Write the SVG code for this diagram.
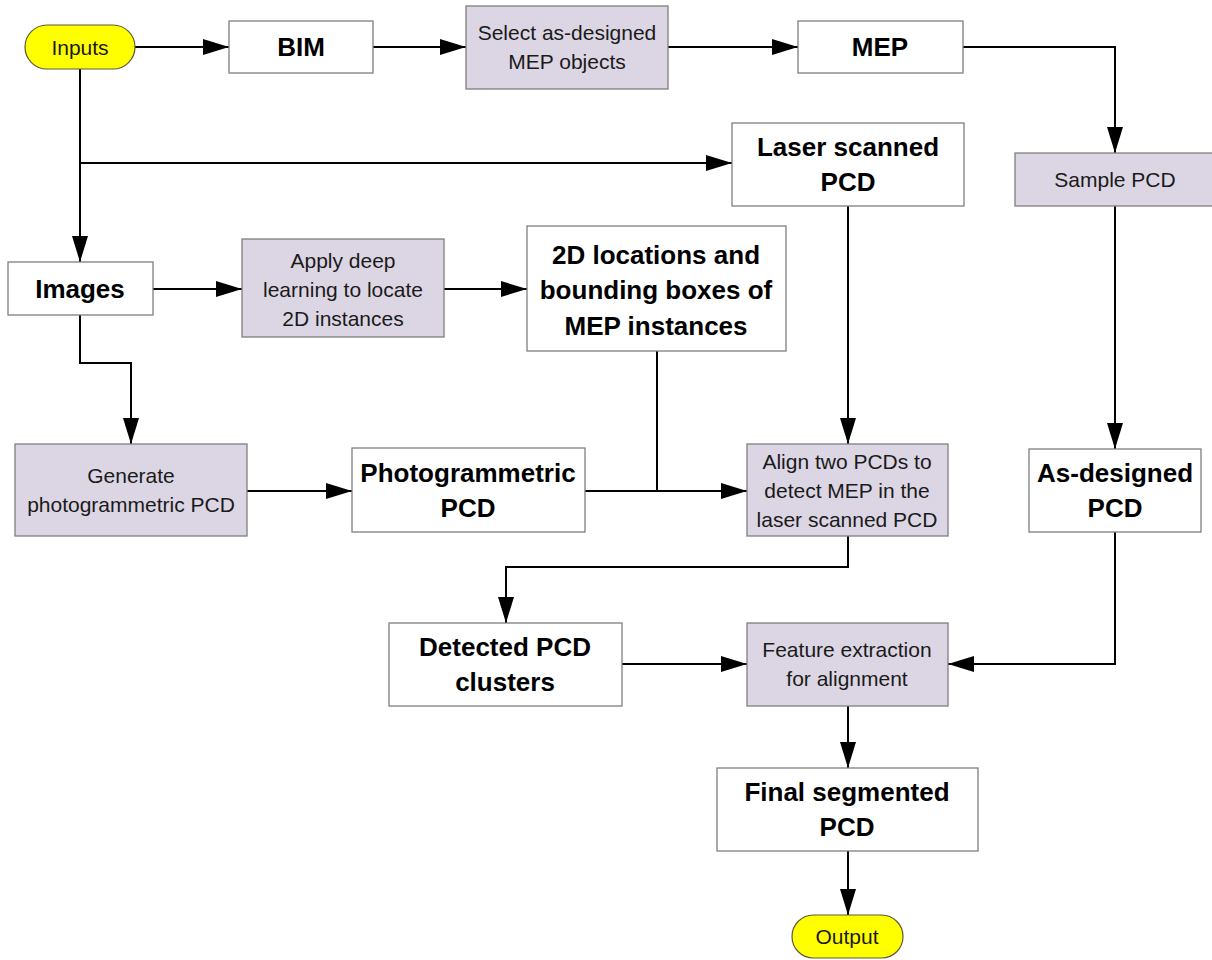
<svg xmlns="http://www.w3.org/2000/svg" width="1212" height="960" viewBox="0 0 1212 960">
<defs>
<marker id="arr" markerUnits="userSpaceOnUse" markerWidth="26" markerHeight="16" refX="26" refY="8" orient="auto">
<path d="M0,0 L26,8 L0,16 Z" fill="#000"/>
</marker>
<style>
.box{fill:#ffffff;stroke:#7f7f7f;stroke-width:1.3}
.proc{fill:#dcd6e4;stroke:#7f7f7f;stroke-width:1.3}
.term{fill:#ffff00;stroke:#5a5a3a;stroke-width:1.2}
.b{font-family:"Liberation Sans",Arial,sans-serif;font-weight:bold;font-size:26px;fill:#000;text-anchor:middle}
.r{font-family:"Liberation Sans",Arial,sans-serif;font-size:21px;fill:#1a1a1a;text-anchor:middle}
.c{fill:none;stroke:#000;stroke-width:2}
</style>
</defs>
<rect width="1212" height="960" fill="#ffffff"/>
<g id="connectors">
<path class="c" d="M135,47 H229" marker-end="url(#arr)"/>
<path class="c" d="M373,47 H466" marker-end="url(#arr)"/>
<path class="c" d="M668,47 H798" marker-end="url(#arr)"/>
<path class="c" d="M963,47 H1115 V153" marker-end="url(#arr)"/>
<path class="c" d="M1115,206 V449" marker-end="url(#arr)"/>
<path class="c" d="M1115,532 V664 H948" marker-end="url(#arr)"/>
<path class="c" d="M80,69 V262" marker-end="url(#arr)"/>
<path class="c" d="M80,163 H732" marker-end="url(#arr)"/>
<path class="c" d="M153,289 H242" marker-end="url(#arr)"/>
<path class="c" d="M444,289 H527" marker-end="url(#arr)"/>
<path class="c" d="M80,315 V363 H131 V444" marker-end="url(#arr)"/>
<path class="c" d="M247,491 H352" marker-end="url(#arr)"/>
<path class="c" d="M585,491 H747" marker-end="url(#arr)"/>
<path class="c" d="M657,351 V491"/>
<path class="c" d="M848,206 V444" marker-end="url(#arr)"/>
<path class="c" d="M848,536 V567 H506 V623" marker-end="url(#arr)"/>
<path class="c" d="M622,664 H747" marker-end="url(#arr)"/>
<path class="c" d="M848,706 V768" marker-end="url(#arr)"/>
<path class="c" d="M848,851 V915" marker-end="url(#arr)"/>
</g>
<g id="inputs"><rect class="term" x="25" y="25" width="110" height="44" rx="22"/><text class="r" x="80" y="55">Inputs</text></g>
<g id="bim"><rect class="box" x="229" y="21" width="144" height="52"/><text class="b" x="301" y="56">BIM</text></g>
<g id="select"><rect class="proc" x="466" y="6" width="202" height="83"/><text class="r" x="567" y="40">Select as-designed</text><text class="r" x="567" y="69">MEP objects</text></g>
<g id="mep"><rect class="box" x="798" y="21" width="165" height="52"/><text class="b" x="880" y="56">MEP</text></g>
<g id="laser"><rect class="box" x="732" y="123" width="232" height="83"/><text class="b" x="848" y="156">Laser scanned</text><text class="b" x="848" y="191">PCD</text></g>
<g id="sample"><rect class="proc" x="1015" y="153" width="200" height="53"/><text class="r" x="1115" y="187">Sample PCD</text></g>
<g id="images"><rect class="box" x="8" y="262" width="145" height="53"/><text class="b" x="80" y="298">Images</text></g>
<g id="apply"><rect class="proc" x="242" y="239" width="202" height="98"/><text class="r" x="343" y="268">Apply deep</text><text class="r" x="343" y="297">learning to locate</text><text class="r" x="343" y="326">2D instances</text></g>
<g id="locations"><rect class="box" x="527" y="226" width="259" height="125"/><text class="b" x="656" y="264">2D locations and</text><text class="b" x="656" y="299">bounding boxes of</text><text class="b" x="656" y="335">MEP instances</text></g>
<g id="generate"><rect class="proc" x="15" y="444" width="232" height="92"/><text class="r" x="131" y="483">Generate</text><text class="r" x="131" y="512">photogrammetric PCD</text></g>
<g id="photogrammetric"><rect class="box" x="352" y="448" width="233" height="84"/><text class="b" x="468" y="482">Photogrammetric</text><text class="b" x="468" y="517">PCD</text></g>
<g id="align"><rect class="proc" x="747" y="444" width="201" height="92"/><text class="r" x="847" y="469">Align two PCDs to</text><text class="r" x="847" y="498">detect MEP in the</text><text class="r" x="847" y="527">laser scanned PCD</text></g>
<g id="asdesigned"><rect class="box" x="1029" y="449" width="172" height="83"/><text class="b" x="1115" y="482">As-designed</text><text class="b" x="1115" y="517">PCD</text></g>
<g id="detected"><rect class="box" x="389" y="623" width="233" height="83"/><text class="b" x="505" y="656">Detected PCD</text><text class="b" x="505" y="691">clusters</text></g>
<g id="feature"><rect class="proc" x="747" y="623" width="201" height="83"/><text class="r" x="847" y="657">Feature extraction</text><text class="r" x="847" y="686">for alignment</text></g>
<g id="final"><rect class="box" x="717" y="768" width="261" height="83"/><text class="b" x="847" y="801">Final segmented</text><text class="b" x="847" y="836">PCD</text></g>
<g id="output"><rect class="term" x="792" y="915" width="111" height="43" rx="21.5"/><text class="r" x="847" y="944">Output</text></g>
</svg>
